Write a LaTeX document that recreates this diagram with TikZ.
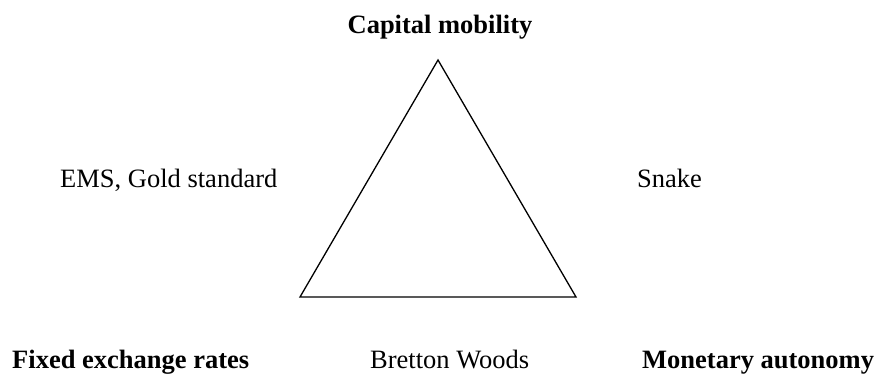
\documentclass[tikz,border=0pt]{standalone}
\usepackage{fontspec}
\setmainfont{Liberation Serif}
\begin{document}
\begin{tikzpicture}[x=1pt,y=-1pt,
  lbl/.style={inner sep=0pt,font=\fontsize{26.5}{30}\selectfont},
  blbl/.style={lbl,font=\fontsize{26.5}{30}\selectfont\bfseries}]
\useasboundingbox (0,0) rectangle (875,375);
\coordinate (A) at (438,60);
\coordinate (L) at (300,297);
\coordinate (R) at (576,297);
\draw[line width=1.3pt,line join=miter] (A) -- (L) -- (R) -- cycle;
\node[blbl,anchor=base] (cm) at (440,33) {Capital mobility};
\node[lbl,anchor=base west] (ems) at (60,187) {EMS, Gold standard};
\node[lbl,anchor=base west] (snake) at (637,187) {Snake};
\node[blbl,anchor=base west] (fer) at (12,368) {Fixed exchange rates};
\node[lbl,anchor=base west] (bw) at (370,368) {Bretton Woods};
\node[blbl,anchor=base west] (ma) at (642,368) {Monetary autonomy};
\end{tikzpicture}
\end{document}
